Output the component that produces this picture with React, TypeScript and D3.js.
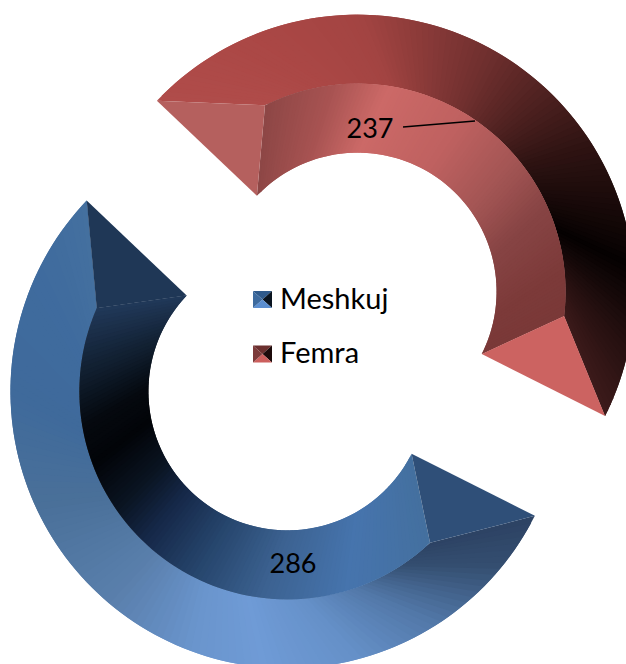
import React from "react";
import * as d3 from "d3";

const categories = ["Meshkuj", "Femra"];
const values = [286, 237];
const colorsOuter: [number, string][][] = [
  [[116.7,"#2c4263"],[129,"#344e70"],[147,"#5278a8"],[165,"#6590c8"],[185,"#6f9bd6"],[200,"#6a95cd"],[220,"#5a7fac"],[246,"#4a7099"],[270,"#3f6a9b"],[296,"#3f6b9e"],[314,"#44709f"]],
  [[313,"#b04c4a"],[340,"#aa4745"],[360,"#a34442"],[388,"#70302f"],[418,"#2e1312"],[445,"#050101"],[462,"#251010"],[477,"#3d1b1b"]],
];
const colorsInner: [number, string][][] = [
  [[116.7,"#44709f"],[150,"#4674ad"],[180,"#3c6291"],[205,"#26456c"],[225,"#16294a"],[240,"#0a1422"],[258,"#020408"],[272,"#05090f"],[290,"#111f30"],[314,"#21395a"]],
  [[313,"#8c4645"],[340,"#a85352"],[360,"#cc6967"],[390,"#bf6160"],[415,"#a35554"],[435,"#874444"],[460,"#7c3a39"],[477,"#7a3938"]],
];
const capStart = ["#2f4f78", "#b5605e"];
const capEnd = ["#1f3756", "#cc6361"];
const swatchFaces = [
  ["#2f5a8c", "#0a1420", "#5b8ed0", "#3d6a9e"],
  ["#6b2f2e", "#1c0a0a", "#cc5f5d", "#7c3a3a"],
];
const labels = ["286", "237"];

const W = 626, H = 664;
const cx = 322.5, cy = 341.5, explode = 61;
const rOuter = 277, rRidge = 208, rInner = 139;
const inset = 20 * Math.PI / 180;
const STEPS = 120;
const FONT = "Lato, Carlito, sans-serif";

const pie = d3.pie<number>().sort(null).startAngle(116.7 * Math.PI / 180).endAngle((116.7 + 360) * Math.PI / 180);
const polar = (c: [number, number], r: number, a: number): [number, number] => [c[0] + r * Math.sin(a), c[1] - r * Math.cos(a)];
const line = d3.line();

function strips(c: [number, number], a0: number, a1: number, r1: number, b0: number, b1: number, r2: number, stops: [number, string][], key: string) {
  const col = d3.scaleLinear<string>().domain(stops.map(s => s[0])).range(stops.map(s => s[1])).interpolate(d3.interpolateRgb).clamp(true);
  return d3.range(STEPS).map(i => {
    const t0 = i / STEPS, t1 = Math.min(1, (i + 2) / STEPS);
    const p = [
      polar(c, r1, a0 + t0 * (a1 - a0)),
      polar(c, r1, a0 + t1 * (a1 - a0)),
      polar(c, r2, b0 + t1 * (b1 - b0)),
      polar(c, r2, b0 + t0 * (b1 - b0)),
    ];
    const f = col((a0 + (i + 0.5) / STEPS * (a1 - a0)) * 180 / Math.PI);
    return <path key={key + i} d={line(p) + "Z"} fill={f} />;
  });
}

export default function App() {
  const arcs = pie(values);
  const legendY = [299.5, 354];
  return (
    <svg width={W} height={H} style={{ position: "absolute", left: 0, top: 0, background: "#fff" }} fontFamily={FONT}>
      <defs>
        <filter id="soft" x="-5%" y="-5%" width="110%" height="110%" colorInterpolationFilters="sRGB">
          <feGaussianBlur stdDeviation={0.6} />
        </filter>
      </defs>
      {arcs.map((d, i) => {
        const mid = (d.startAngle + d.endAngle) / 2;
        const c = polar([cx, cy], explode, mid);
        const a0 = d.startAngle, a1 = d.endAngle;
        const b0 = a0 + inset, b1 = a1 - inset;
        const cap = (a: number, b: number, fill: string) => (
          <path d={line([polar(c, rOuter, a), polar(c, rRidge, b), polar(c, rInner, a)]) + "Z"} fill={fill} />
        );
        return (
          <g key={categories[i]} filter="url(#soft)">
            {strips(c, a0, a1, rOuter, b0, b1, rRidge, colorsOuter[i], "o")}
            {strips(c, a0, a1, rInner, b0, b1, rRidge, colorsInner[i], "i")}
            {cap(a0, b0, capStart[i])}
            {cap(a1, b1, capEnd[i])}
          </g>
        );
      })}
      <text x={293} y={573} fontSize={27} textAnchor="middle" fill="#000">{labels[0]}</text>
      <text x={370} y={138} fontSize={27} textAnchor="middle" fill="#000">{labels[1]}</text>
      <path d={line([[403, 127], [475, 121]]) as string} stroke="#000" strokeWidth={1.5} fill="none" />
      {categories.map((name, i) => {
        const y = legendY[i];
        const x0 = 253, x1 = 272, y0 = y - 8.5, y1 = y + 8.5, mx = 262.5, my = y;
        const tris: [number, number][][] = [
          [[x0, y0], [x1, y0], [mx, my]],
          [[x1, y0], [x1, y1], [mx, my]],
          [[x0, y1], [x1, y1], [mx, my]],
          [[x0, y0], [x0, y1], [mx, my]],
        ];
        return (
          <g key={name}>
            {tris.map((t, k) => <path key={k} d={line(t) + "Z"} fill={swatchFaces[i][k]} />)}
            <text x={280} y={y + 9} fontSize={29} fill="#000">{name}</text>
          </g>
        );
      })}
    </svg>
  );
}
